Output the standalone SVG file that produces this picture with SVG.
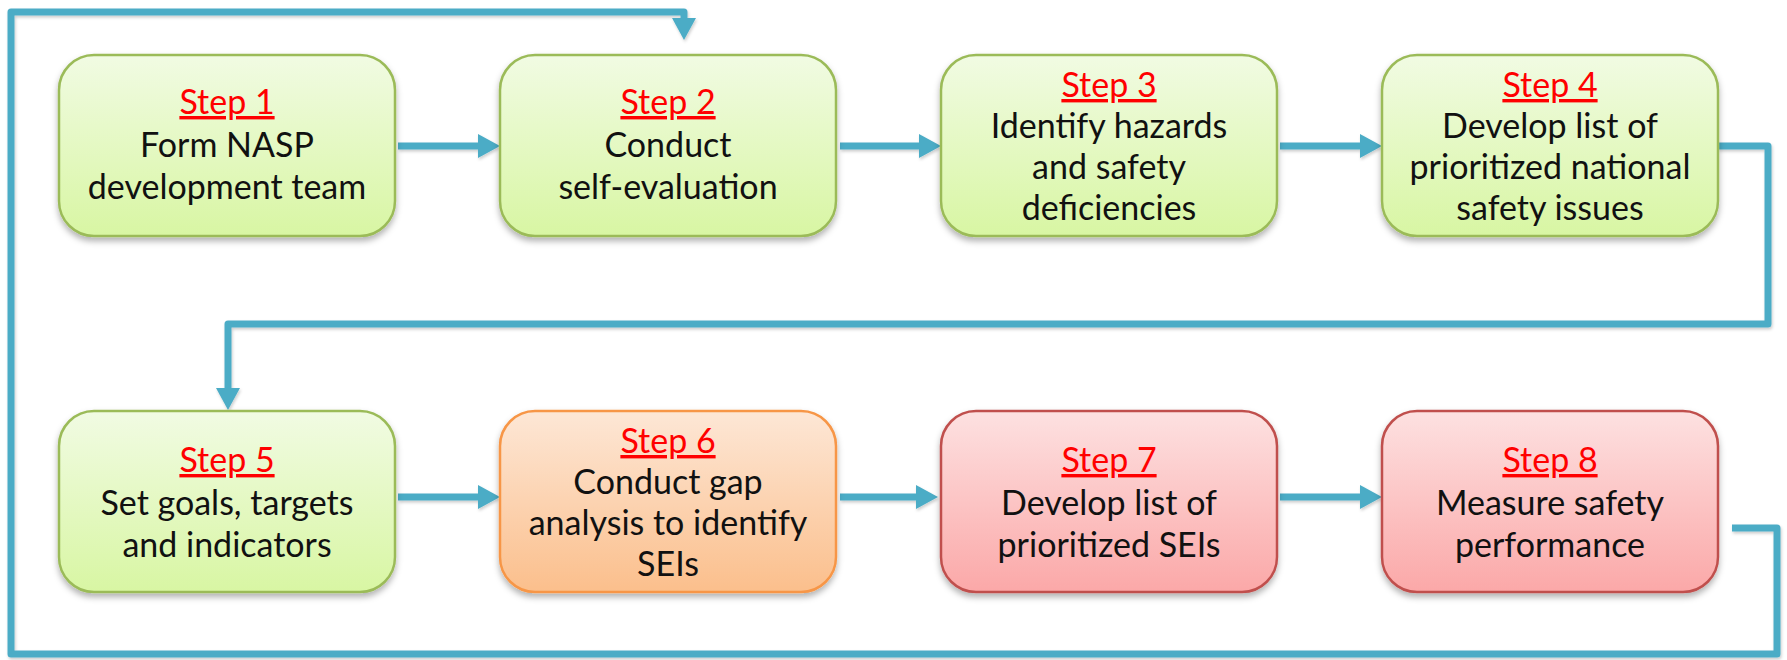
<svg xmlns="http://www.w3.org/2000/svg" width="1787" height="660" viewBox="0 0 1787 660">
<style>
.box{stroke-width:2.5}
.g{fill:url(#gg);stroke:#9bbb59}
.o{fill:url(#go);stroke:#f79646}
.r{fill:url(#gr);stroke:#c0504d}
text{font-family:Lato,"Open Sans","Liberation Sans",sans-serif;font-size:34px;text-anchor:middle;fill:#111}
.st{fill:#ff0000;text-decoration:underline}
.c{fill:none;stroke:#4bacc6;stroke-width:7;stroke-linejoin:round}
</style>
<defs>
<linearGradient id="gg" x1="0" y1="0" x2="0" y2="1"><stop offset="0" stop-color="#f1fbe3"/><stop offset="1" stop-color="#d8f6a3"/></linearGradient>
<linearGradient id="go" x1="0" y1="0" x2="0" y2="1"><stop offset="0" stop-color="#fde7d6"/><stop offset="1" stop-color="#fbbf8c"/></linearGradient>
<linearGradient id="gr" x1="0" y1="0" x2="0" y2="1"><stop offset="0" stop-color="#fde1e1"/><stop offset="1" stop-color="#fba8a8"/></linearGradient>
<filter id="sh" x="-10%" y="-10%" width="120%" height="130%"><feDropShadow dx="0" dy="4" stdDeviation="3" flood-color="#000" flood-opacity="0.3"/></filter>
<filter id="csh" x="-5%" y="-5%" width="110%" height="110%"><feDropShadow dx="1" dy="2" stdDeviation="1.5" flood-color="#000" flood-opacity="0.2"/></filter>
<marker id="ah" markerUnits="userSpaceOnUse" markerWidth="22" markerHeight="24" refX="0" refY="12" orient="auto"><path d="M0,0 L22,12 L0,24 z" fill="#4bacc6"/></marker>
</defs>

<g id="connectors" filter="url(#csh)">
<path class="c" d="M398,146 H478" marker-end="url(#ah)"/>
<path class="c" d="M840,146 H919" marker-end="url(#ah)"/>
<path class="c" d="M1280,146 H1360" marker-end="url(#ah)"/>
<path class="c" d="M398,497 H478" marker-end="url(#ah)"/>
<path class="c" d="M840,497 H916" marker-end="url(#ah)"/>
<path class="c" d="M1280,497 H1360" marker-end="url(#ah)"/>
<path class="c" d="M1718,146 H1768 V324 H228 V388" marker-end="url(#ah)"/>
<path class="c" d="M1732,528 H1777 V654 H11 V12 H684 V18" marker-end="url(#ah)"/>
</g>

<g id="step1">
<rect class="box g" x="59" y="55" width="336" height="181" rx="35" filter="url(#sh)"/>
<text x="227" y="114" class="st">Step 1</text>
<text x="227" y="157">Form NASP</text>
<text x="227" y="199">development team</text>
</g>
<g id="step2">
<rect class="box g" x="500" y="55" width="336" height="181" rx="35" filter="url(#sh)"/>
<text x="668" y="114" class="st">Step 2</text>
<text x="668" y="157">Conduct</text>
<text x="668" y="199">self-evaluation</text>
</g>
<g id="step3">
<rect class="box g" x="941" y="55" width="336" height="181" rx="35" filter="url(#sh)"/>
<text x="1109" y="97" class="st">Step 3</text>
<text x="1109" y="138">Identify hazards</text>
<text x="1109" y="179">and safety</text>
<text x="1109" y="220">deficiencies</text>
</g>
<g id="step4">
<rect class="box g" x="1382" y="55" width="336" height="181" rx="35" filter="url(#sh)"/>
<text x="1550" y="97" class="st">Step 4</text>
<text x="1550" y="138">Develop list of</text>
<text x="1550" y="179">prioritized national</text>
<text x="1550" y="220">safety issues</text>
</g>
<g id="step5">
<rect class="box g" x="59" y="411" width="336" height="181" rx="35" filter="url(#sh)"/>
<text x="227" y="472" class="st">Step 5</text>
<text x="227" y="515">Set goals, targets</text>
<text x="227" y="557">and indicators</text>
</g>
<g id="step6">
<rect class="box o" x="500" y="411" width="336" height="181" rx="35" filter="url(#sh)"/>
<text x="668" y="453" class="st">Step 6</text>
<text x="668" y="494">Conduct gap</text>
<text x="668" y="535">analysis to identify</text>
<text x="668" y="576">SEIs</text>
</g>
<g id="step7">
<rect class="box r" x="941" y="411" width="336" height="181" rx="35" filter="url(#sh)"/>
<text x="1109" y="472" class="st">Step 7</text>
<text x="1109" y="515">Develop list of</text>
<text x="1109" y="557">prioritized SEIs</text>
</g>
<g id="step8">
<rect class="box r" x="1382" y="411" width="336" height="181" rx="35" filter="url(#sh)"/>
<text x="1550" y="472" class="st">Step 8</text>
<text x="1550" y="515">Measure safety</text>
<text x="1550" y="557">performance</text>
</g>
</svg>
